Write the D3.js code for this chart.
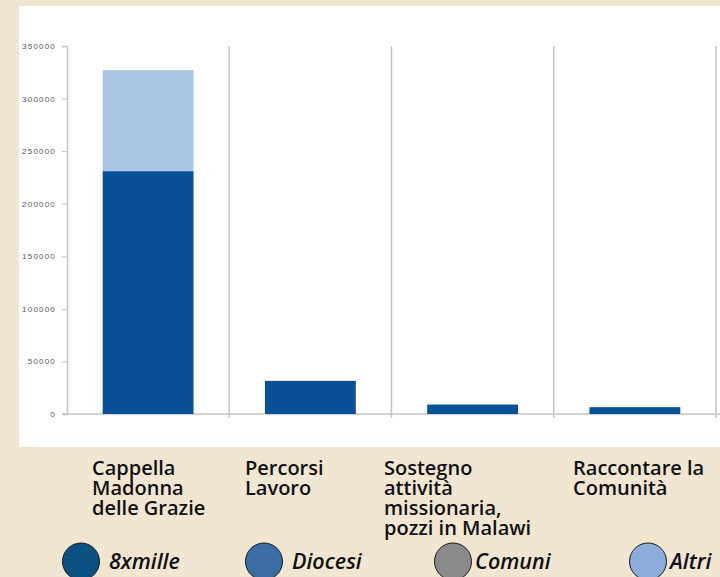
<!DOCTYPE html>
<html>
<head>
<meta charset="utf-8">
<script src="https://cdn.jsdelivr.net/npm/d3@7/dist/d3.min.js"></script>
<style>
  html, body { margin: 0; padding: 0; background: #f1e6d1; }
  svg { display: block; }
</style>
</head>
<body>
<svg id="chart" width="720" height="577"></svg>
<script>
// ---- data ----
const categories = [
  ["Cappella", "Madonna", "delle Grazie"],
  ["Percorsi", "Lavoro"],
  ["Sostegno", "attività", "missionaria,", "pozzi in Malawi"],
  ["Raccontare la", "Comunità"]
];
const categoryKeys = ["Cappella Madonna delle Grazie", "Percorsi Lavoro", "Sostegno attività missionaria, pozzi in Malawi", "Raccontare la Comunità"];
const series8xmille = [231000, 31500, 9000, 6500];
const seriesAltri   = [96000, 0, 0, 0];
const yTicks = [0, 50000, 100000, 150000, 200000, 250000, 300000, 350000];
const legendLabels = ["8xmille", "Diocesi", "Comuni", "Altri"];
const legendColors = ["#0b5283", "#3b6ea4", "#8a8a8a", "#8cacdc"];

// ---- layout ----
const svg = d3.select("#chart");
const x0 = 67, x1 = 716, yTop = 46, yBase = 414;

svg.append("rect").attr("x", 19).attr("y", 6).attr("width", 701).attr("height", 441).attr("fill", "#ffffff");

const x = d3.scaleBand().domain(categoryKeys).range([x0, x1]).padding(0);
const y = d3.scaleLinear().domain([0, 350000]).range([yBase, yTop]);

// separators
svg.append("g").selectAll("line").data(categoryKeys).join("line")
  .attr("x1", d => x(d) + x.bandwidth()).attr("x2", d => x(d) + x.bandwidth())
  .attr("y1", yTop).attr("y2", yBase + 4)
  .attr("stroke", "#c4c4c4").attr("stroke-width", 1.5);

// y axis
const yAxis = d3.axisLeft(y).tickValues(yTicks).tickSize(5).tickPadding(6).tickFormat(d3.format("d"));
const gy = svg.append("g").attr("transform", `translate(${x0},0)`).call(yAxis);
gy.select(".domain").attr("stroke", "#c4c4c4").attr("stroke-width", 1.5);
gy.selectAll(".tick line").attr("stroke", "#c4c4c4");
gy.selectAll(".tick text").attr("fill", "#555").attr("font-family", "Liberation Sans, Arial, sans-serif")
  .attr("font-size", 8).attr("letter-spacing", 1.2);

// baseline
svg.append("line").attr("x1", x0 - 5).attr("x2", 720).attr("y1", yBase).attr("y2", yBase)
  .attr("stroke", "#c4c4c4").attr("stroke-width", 1.5);

// bars
const barW = x.bandwidth() * 0.56, barOff = x.bandwidth() * 0.22;
const stackData = categoryKeys.map((k, i) => ({key: k, a: series8xmille[i], b: seriesAltri[i]}));
const stacked = d3.stack().keys(["a", "b"])(stackData);
const barColors = {a: "#0a5099", b: "#abc5e7"};
svg.append("g").selectAll("g").data(stacked).join("g")
  .attr("fill", s => barColors[s.key])
  .selectAll("rect").data(s => s).join("rect")
  .attr("x", d => x(d.data.key) + barOff)
  .attr("width", barW)
  .attr("y", d => y(d[1]))
  .attr("height", d => y(d[0]) - y(d[1]));

// category labels
const labelLeft = [92, 245, 384, 573];
const lab = svg.append("g").attr("font-family", "Open Sans, sans-serif").attr("font-weight", 600)
  .attr("font-size", 20).attr("fill", "#111");
categories.forEach((lines, i) => {
  const t = lab.append("text").attr("x", labelLeft[i]).attr("y", 475);
  lines.forEach((l, j) => t.append("tspan").attr("x", labelLeft[i]).attr("dy", j === 0 ? 0 : 20).text(l));
});

// legend
const legendCx = [81, 264, 453, 648];
const lg = svg.append("g");
legendLabels.forEach((l, i) => {
  lg.append("circle").attr("cx", legendCx[i]).attr("cy", 561.5).attr("r", 18.5)
    .attr("fill", legendColors[i]).attr("stroke", "#1a1a1a").attr("stroke-width", 1);
  lg.append("text").attr("x", legendCx[i] + 28 - (i >= 2 ? 6 : 0)).attr("y", 569)
    .attr("font-family", "Open Sans, sans-serif").attr("font-weight", 600).attr("font-style", "italic")
    .attr("font-size", 21.5).attr("fill", "#111").text(l);
});
</script>
</body>
</html>
